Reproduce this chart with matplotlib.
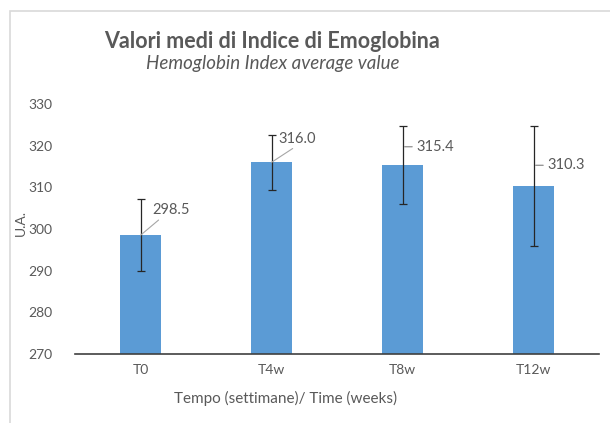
import matplotlib
matplotlib.use("Agg")
import matplotlib.pyplot as plt
import matplotlib.transforms as mtransforms
from matplotlib.patches import Rectangle

# data
tempi = ['T0', 'T4w', 'T8w', 'T12w']
medie = [298.5, 316.0, 315.4, 310.3]
errori = [8.7, 6.6, 9.3, 14.4]
etichette = ['298.5', '316.0', '315.4', '310.3']

grigio = '#595959'
blu = '#5B9BD5'

plt.rcParams['font.family'] = ['Lato', 'DejaVu Sans']

fig = plt.figure(figsize=(6.1, 4.23), dpi=100)
fig.patch.set_facecolor('white')

# chart frame (light gray, cropped on right/bottom)
fig.patches.append(Rectangle((10 / 610, -0.1), 1.2, 1.1 - 11 / 423, transform=fig.transFigure,
                             fill=False, edgecolor='#d9d9d9', lw=1.2, zorder=0))

ax = fig.add_axes([75 / 610, 1 - 354 / 423, (599 - 75) / 610, (354 - 104) / 423])
x = list(range(len(tempi)))
ax.bar(x, medie, width=0.31, color=blu, zorder=2)
ax.errorbar(x, medie, yerr=errori, fmt='none', ecolor='#262626', elinewidth=0.9,
            capsize=3, capthick=0.9, zorder=3)

ax.set_ylim(270, 330)
ax.set_xlim(-0.5, len(tempi) - 0.5)
ax.set_yticks(range(270, 331, 10))
ax.set_xticks(x)
ax.set_xticklabels(tempi)
ax.tick_params(axis='both', length=0, colors=grigio, labelsize=10)
ax.tick_params(axis='y', pad=16)
ax.tick_params(axis='x', pad=7)
for s in ['top', 'right', 'left']:
    ax.spines[s].set_visible(False)
ax.spines['bottom'].set_color('#404040')
ax.spines['bottom'].set_linewidth(1.2)

# data labels with leader lines
offs = [(8.5, 18), (5, 17), (10, 13), (10, 15)]
for i in range(len(tempi)):
    dx, dy = offs[i]
    if i < 2:
        ax.annotate(etichette[i], xy=(i, medie[i]), xytext=(dx, dy), textcoords='offset points',
                    fontsize=10.5, color=grigio, ha='left', va='center',
                    arrowprops=dict(arrowstyle='-', color='#a6a6a6', lw=0.8, shrinkA=0, shrinkB=0,
                                    relpos=(0.3 if i == 0 else 0.55, 0.1)))
    else:
        tr = mtransforms.offset_copy(ax.transData, fig=fig, x=1.5, y=dy, units='points')
        ax.annotate(etichette[i], xy=(i, medie[i]), xycoords=tr, xytext=(dx - 1.5, 0),
                    textcoords='offset points', fontsize=10.5, color=grigio, ha='left', va='center',
                    arrowprops=dict(arrowstyle='-', color='#7f7f7f', lw=0.8, shrinkA=1, shrinkB=0,
                                    relpos=(0, 0.5)))

fig.text(272 / 610, 1 - 42 / 423, 'Valori medi di Indice di Emoglobina', ha='center', va='center',
         fontsize=15.5, fontweight='bold', color=grigio)
fig.text(273 / 610, 1 - 64 / 423, 'Hemoglobin Index average value', ha='center', va='center',
         fontsize=13.5, style='italic', color=grigio)
fig.text(286 / 610, 1 - 398 / 423, 'Tempo (settimane)/ Time (weeks)', ha='center', va='center',
         fontsize=11, color=grigio)
fig.text(21 / 610, 1 - 223 / 423, 'U.A.', ha='center', va='center', rotation=90,
         fontsize=10, color=grigio)

fig.savefig('out.png', dpi=100)
